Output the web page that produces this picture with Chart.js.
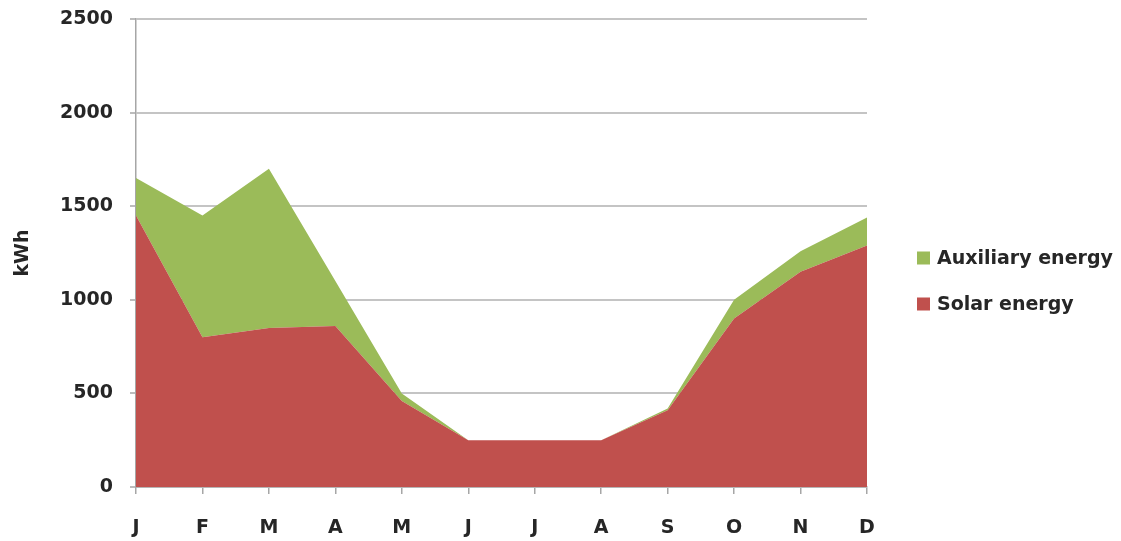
<!DOCTYPE html>
<html>
<head>
<meta charset="utf-8">
<script src="https://cdn.jsdelivr.net/npm/chart.js@4/dist/chart.umd.min.js"></script>
<style>
  html, body { margin: 0; padding: 0; background: #ffffff; }
  #wrap { width: 1121px; height: 541px; }
</style>
</head>
<body>
<div id="wrap"><canvas id="energy" width="1121" height="541"></canvas></div>
<script>
// Monthly energy supply (kWh), stacked: solar at the bottom, auxiliary on top
const months = ['J', 'F', 'M', 'A', 'M', 'J', 'J', 'A', 'S', 'O', 'N', 'D'];
const solarEnergy = [1450, 800, 850, 860, 460, 250, 250, 250, 410, 900, 1150, 1290];
const auxiliaryEnergy = [200, 650, 850, 240, 40, 0, 0, 0, 10, 100, 110, 150];
const yTicks = [0, 500, 1000, 1500, 2000, 2500];

const FONT_FAMILY = '"DejaVu Sans", sans-serif';
const TEXT_COLOR = '#262626';
const AXIS_COLOR = '#a6a6a6';

// Legend to the right of the plot, auxiliary listed first
const sideLegend = {
  id: 'sideLegend',
  afterDraw(chart, args, opts) {
    const ctx = chart.ctx;
    const items = chart.data.datasets.slice().reverse();
    ctx.save();
    ctx.font = 'bold 19px ' + FONT_FAMILY;
    ctx.textBaseline = 'middle';
    ctx.textAlign = 'left';
    items.forEach((ds, i) => {
      const cy = opts.top + i * opts.spacing;
      ctx.fillStyle = ds.backgroundColor;
      ctx.fillRect(opts.left, cy - opts.box / 2, opts.box, opts.box);
      ctx.fillStyle = TEXT_COLOR;
      ctx.fillText(ds.label, opts.left + opts.box + 7, cy + 1);
    });
    ctx.restore();
  }
};

new Chart(document.getElementById('energy'), {
  type: 'line',
  data: {
    labels: months,
    datasets: [
      {
        label: 'Solar energy',
        data: solarEnergy,
        backgroundColor: '#c0504d',
        borderColor: '#c0504d',
        borderWidth: 0,
        pointRadius: 0,
        tension: 0,
        fill: 'origin'
      },
      {
        label: 'Auxiliary energy',
        data: auxiliaryEnergy,
        backgroundColor: '#9bbb59',
        borderColor: '#9bbb59',
        borderWidth: 0,
        pointRadius: 0,
        tension: 0,
        fill: '-1'
      }
    ]
  },
  options: {
    responsive: false,
    animation: false,
    devicePixelRatio: 1,
    layout: { padding: { left: 0, right: 254, top: 19, bottom: 0 } },
    plugins: {
      legend: { display: false },
      tooltip: { enabled: false },
      sideLegend: { left: 917, top: 258, spacing: 46, box: 13 }
    },
    scales: {
      x: {
        stacked: true,
        offset: false,
        grid: {
          drawOnChartArea: false,
          drawTicks: true,
          tickLength: 7,
          color: AXIS_COLOR,
          lineWidth: 1.5
        },
        border: { color: AXIS_COLOR, width: 1.5 },
        ticks: {
          autoSkip: false,
          maxRotation: 0,
          padding: 23,
          color: TEXT_COLOR,
          font: { family: FONT_FAMILY, size: 19, weight: 'bold' }
        },
        afterFit(scale) { scale.height = 54; }
      },
      y: {
        stacked: true,
        min: 0,
        max: 2500,
        afterBuildTicks(scale) { scale.ticks = yTicks.map(v => ({ value: v })); },
        grid: {
          color: '#c4c4c4',
          lineWidth: 2,
          drawTicks: true,
          tickLength: 6,
          tickColor: AXIS_COLOR,
          tickWidth: 1.5
        },
        border: { color: AXIS_COLOR, width: 1.5 },
        ticks: {
          padding: 17,
          color: TEXT_COLOR,
          font: { family: FONT_FAMILY, size: 19, weight: 'bold' },
          callback: v => String(v)
        },
        title: {
          display: true,
          text: 'kWh',
          color: TEXT_COLOR,
          font: { family: FONT_FAMILY, size: 19, weight: 'bold' },
          padding: { top: 12, bottom: 0 }
        },
        afterFit(scale) {
          scale.width = 136;
          scale.paddingTop = 0;
          scale.paddingBottom = 0;
        }
      }
    }
  },
  plugins: [sideLegend]
});
</script>
</body>
</html>
